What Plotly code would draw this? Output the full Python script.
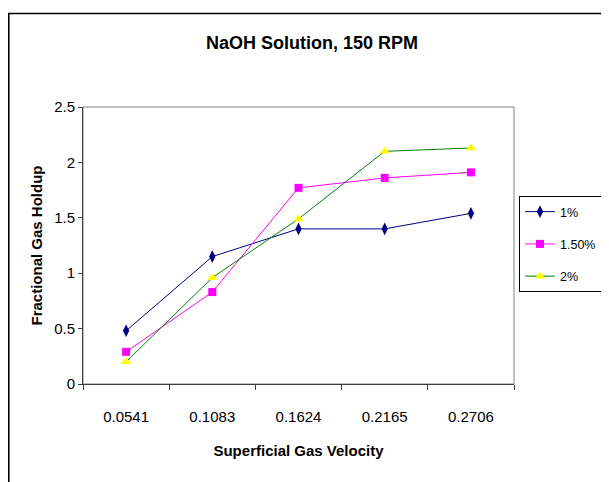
import plotly.graph_objects as go

categories = ["0.0541", "0.1083", "0.1624", "0.2165", "0.2706"]
series_names = ["1%", "1.50%", "2%"]
s1 = [0.48, 1.15, 1.40, 1.40, 1.54]
s15 = [0.29, 0.83, 1.77, 1.86, 1.91]
s2 = [0.20, 0.96, 1.49, 2.10, 2.13]
y_ticks = [0, 0.5, 1, 1.5, 2, 2.5]
y_ticklabels = ["0", "0.5", "1", "1.5", "2", "2.5"]

OFF = 8  # page body margin
W, H = 650, 482 - OFF
L, R, T, B = 83 - OFF, 514 - OFF, 107 - OFF, 384 - OFF
FONT = "Liberation Sans, Arial, sans-serif"

fig = go.Figure()
styles = [
    dict(line=dict(color="#000080", width=1), marker=dict(symbol="diamond-tall", size=9, color="#000080")),
    dict(line=dict(color="#FF00FF", width=1), marker=dict(symbol="square", size=8, color="#FF00FF")),
    dict(line=dict(color="#008000", width=1), marker=dict(symbol="triangle-up", size=9, color="#FFFF00")),
]
for i, (name, vals) in enumerate(zip(series_names, [s1, s15, s2])):
    fig.add_trace(go.Scatter(x=categories, y=vals, name=name, mode="lines+markers",
                             legendgroup=name, cliponaxis=False, **styles[i]))

def px2x(p):  # page pixel -> paper
    return (p - OFF - L) / (R - L)

def px2y(p):
    return (B - (p - OFF)) / (B - T)

# plot-area border (gray) and outer chart frame
fig.add_shape(type="rect", xref="paper", yref="paper", x0=0, x1=1, y0=0, y1=1,
              line=dict(color="#808080", width=1), layer="below")
fig.add_shape(type="rect", xref="paper", yref="paper", x0=px2x(8.8), x1=px2x(655),
              y0=px2y(560), y1=px2y(13.5), line=dict(color="#000000", width=1.6), layer="below")

fig.update_layout(
    width=W, height=H,
    margin=dict(l=L, r=W - R, t=T, b=H - B),
    paper_bgcolor="white", plot_bgcolor="white",
    font=dict(family=FONT, size=15, color="black"),
    title=dict(text="<b>NaOH Solution, 150 RPM</b>", x=(312 - OFF) / W, xanchor="center",
               y=1 - (43 - OFF) / H, yanchor="middle", font=dict(size=18, family=FONT)),
    showlegend=True,
    legend=dict(x=px2x(519), y=px2y(196), xanchor="left", yanchor="top",
                bordercolor="black", borderwidth=1, bgcolor="white",
                font=dict(size=12.5, family=FONT), tracegroupgap=13,
                itemwidth=30),
    xaxis=dict(type="category", range=[-0.5, 4.5], showline=True, linecolor="#404040", linewidth=1,
               ticks="outside", ticklen=5, tickcolor="#404040", tickson="boundaries",
               showgrid=False, zeroline=False, ticklabelstandoff=19,
               tickfont=dict(size=15, family=FONT),
               title=dict(text="<b>Superficial Gas Velocity</b>", standoff=21,
                          font=dict(size=15, family=FONT))),
    yaxis=dict(range=[0, 2.5], tickvals=y_ticks, ticktext=y_ticklabels, showline=True,
               linecolor="#404040", linewidth=1, ticks="outside", ticklen=4, tickcolor="#404040",
               showgrid=False, zeroline=False,
               tickfont=dict(size=15, family=FONT),
               title=dict(text="<b>Fractional Gas Holdup</b>", standoff=7,
                          font=dict(size=15, family=FONT))),
)

fig.write_html("out.html")
